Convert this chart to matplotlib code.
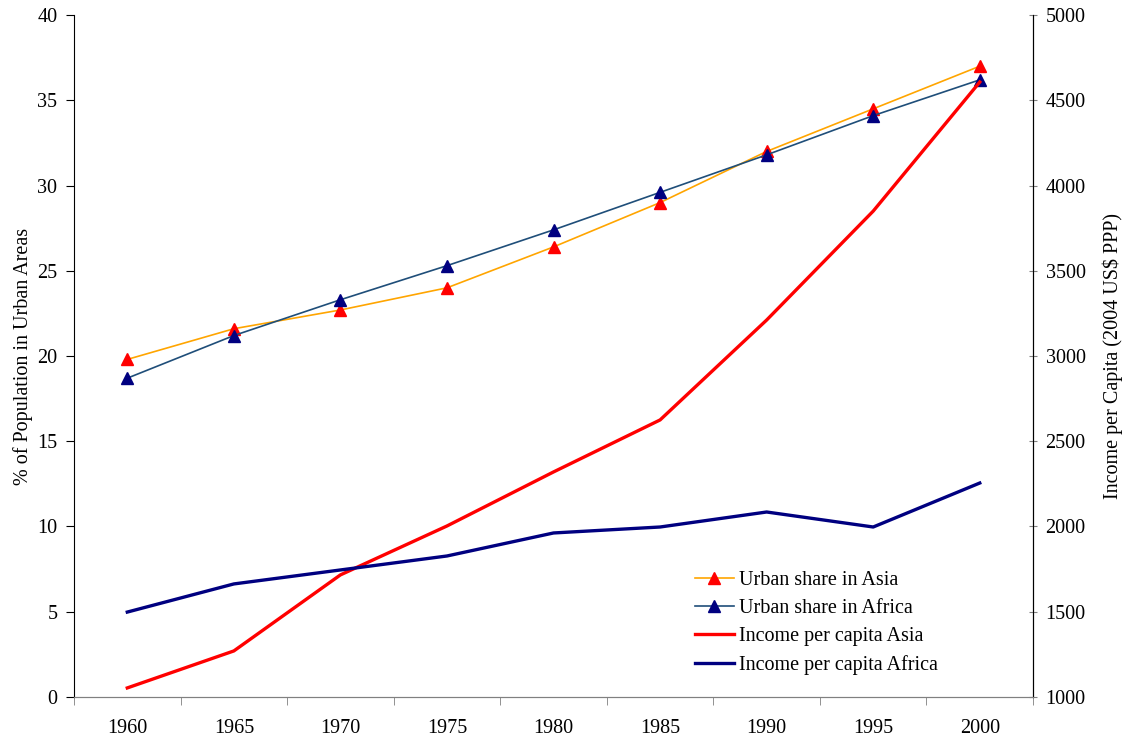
import numpy as np
import matplotlib.pyplot as plt

years = [1960, 1965, 1970, 1975, 1980, 1985, 1990, 1995, 2000]
urban_asia = [19.8, 21.6, 22.7, 24.0, 26.4, 29.0, 32.0, 34.5, 37.0]
urban_africa = [18.7, 21.2, 23.3, 25.3, 27.4, 29.6, 31.8, 34.1, 36.2]
income_asia = [1053, 1270, 1716, 2003, 2320, 2625, 3211, 3850, 4607]
income_africa = [1498, 1663, 1745, 1827, 1962, 1997, 2085, 1997, 2255]

plt.rcParams['font.family'] = ['Liberation Serif', 'DejaVu Serif']
plt.rcParams['font.size'] = 14.5

fig = plt.figure(figsize=(11.23, 7.38), dpi=100)
ax = fig.add_axes([0.0659, 0.0556, 0.854, 0.924])
ax2 = ax.twinx()

x = np.arange(len(years))
l1, = ax.plot(x, urban_asia, color="orange", lw=1.2, marker="^", ms=8,
              mfc="red", mec="red", label="Urban share in Asia")
l2, = ax.plot(x, urban_africa, color="#1F4E79", lw=1.2, marker="^", ms=8,
              mfc="#000080", mec="#000080", label="Urban share in Africa")
l3, = ax2.plot(x, income_asia, color="red", lw=2.4, label="Income per capita Asia")
l4, = ax2.plot(x, income_africa, color="#000080", lw=2.4, label="Income per capita Africa")

ax.set_xlim(-0.5, len(years) - 0.5)
ax.set_ylim(0, 40)
ax2.set_ylim(1000, 5000)
ax.set_yticks(range(0, 41, 5))
ax2.set_yticks(range(1000, 5001, 500))
ax.set_xticks(x)
ax.set_xticklabels([str(y) for y in years])
ax.set_xticks(np.arange(-0.5, len(years), 1), minor=True)
ax.tick_params(axis="x", which="major", length=0, pad=16)
ax.tick_params(axis="x", which="minor", length=6, color="#808080", direction="out")
ax.tick_params(axis="y", length=6, direction="out", pad=6)
ax2.tick_params(axis="y", length=6, direction="inout", color="#808080", pad=6)

for a in (ax, ax2):
    a.spines["top"].set_visible(False)
    a.spines["bottom"].set_color("#808080")
ax2.spines["left"].set_visible(False)

ax.set_ylabel("% of Population in Urban Areas", labelpad=3)
ax2.set_ylabel("Income per Capita (2004 US\\$ PPP)", labelpad=12)

ax2.legend(handles=[l1, l2, l3, l4], loc="upper left", bbox_to_anchor=(0.647, 0.185),
           frameon=False, handlelength=1.95, handletextpad=0.25, labelspacing=0.45,
           borderpad=0, borderaxespad=0, fontsize=14.5)

fig.savefig("out.png", dpi=100)
